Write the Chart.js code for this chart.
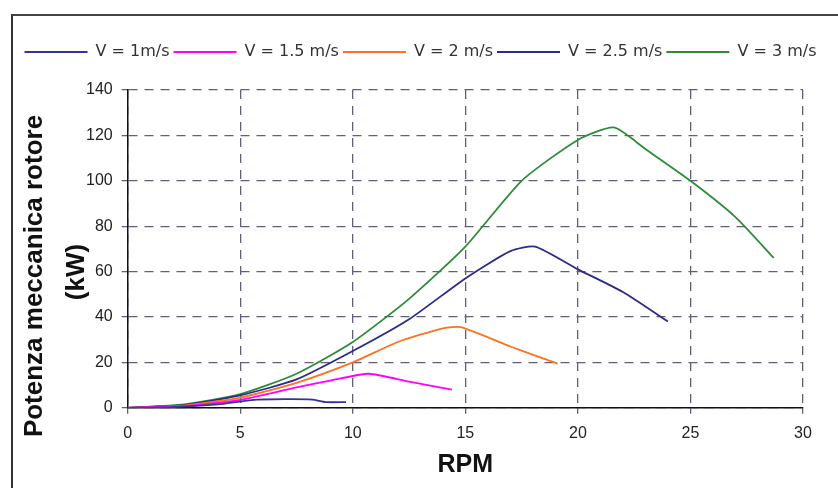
<!DOCTYPE html>
<html>
<head>
<meta charset="utf-8">
<script src="https://cdn.jsdelivr.net/npm/chart.js@4.4.0/dist/chart.umd.min.js"></script>
<style>
  body { margin: 0; background: #fff; }
  #frame { position: absolute; left: 11px; top: 14px; width: 900px; height: 500px;
           border-left: 2px solid #333; border-top: 2px solid #444; }
  #wrap { position: absolute; left: 0; top: 0; width: 838px; height: 488px; }
</style>
</head>
<body>
<div id="frame"></div>
<div id="wrap"><canvas id="powerChart"></canvas></div>
<script>
// RPM / power (kW)
const rpm1 = [0, 2, 4, 5.5, 7, 8.2, 8.8, 9.7];
const kw1 = [0, 0.3, 1.5, 3.4, 3.8, 3.6, 2.5, 2.5];

const rpm15 = [0, 2.5, 5, 7.5, 9, 10.7, 12.5, 14.4];
const kw15 = [0, 0.8, 3.5, 9, 12, 15, 11.5, 8];

const rpm2 = [0, 2.5, 5, 7.5, 10, 12, 14, 14.8, 17, 19.1];
const kw2 = [0, 1, 4.5, 11, 20, 29, 35, 35.5, 27, 19.5];

const rpm25 = [0, 2.5, 5, 7.5, 10, 12.5, 15, 17, 18.1, 20, 22, 24];
const kw25 = [0, 1.2, 5.5, 12.5, 25, 39, 57, 69, 71, 61, 51, 38];

const rpm3 = [0, 2.5, 5, 7.5, 10, 12.5, 15, 17.5, 20, 21.6, 23, 25, 27, 28.7];
const kw3 = [0, 1.5, 6, 15, 29, 48, 71, 100, 118, 123.5, 114, 100, 84, 66];

const seriesNames = ["V = 1m/s", "V = 1.5 m/s", "V = 2 m/s", "V = 2.5 m/s", "V = 3 m/s"];
const seriesColors = ["#333399", "#ff00ff", "#ff7020", "#2b2b88", "#2f8a3a"];
const yTitleLines = ["Potenza meccanica rotore", "(kW)"];

function pts(xs, ys) {
    return xs.map((x, i) => ({ x: x, y: ys[i] }));
}

const allData = [pts(rpm1, kw1), pts(rpm15, kw15), pts(rpm2, kw2), pts(rpm25, kw25), pts(rpm3, kw3)];

// keep the legend on one row, leave room under it, place it across the frame
const legendSpacer = {
    id: "legendSpacer",
    beforeInit(chart) {
        const fit = chart.legend.fit;
        chart.legend.fit = function () {
            this.maxWidth = 1000;
            fit.bind(chart.legend)();
            this.height += 20;
        };
    },
    afterLayout(chart) {
        chart.legend.left = 14;
        chart.legend.right = 827;
    }
};

// y title sits lower than the axis centre in the original, so draw it by hand
const yTitle = {
    id: "yTitle",
    afterDraw(chart) {
        const c = chart.ctx;
        c.save();
        c.fillStyle = "#111";
        c.font = "bold 26px 'Liberation Sans'";
        c.textAlign = "center";
        c.textBaseline = "middle";
        c.translate(35, 276);
        c.rotate(-Math.PI / 2);
        c.fillText(yTitleLines[0], 0, 0);
        c.fillText(yTitleLines[1], 4, 42);
        c.restore();
    }
};

const ctx = document.getElementById("powerChart").getContext("2d");
new Chart(ctx, {
    type: "line",
    data: {
        datasets: allData.map((d, i) => ({
            label: seriesNames[i],
            data: d,
            borderColor: seriesColors[i],
            backgroundColor: seriesColors[i],
            borderWidth: 1.8,
            pointRadius: 0,
            tension: 0.2,
            fill: false
        }))
    },
    plugins: [legendSpacer, yTitle],
    options: {
        responsive: true,
        maintainAspectRatio: false,
        animation: false,
        layout: { padding: { left: 77, right: 35, top: 40, bottom: 8 } },
        plugins: {
            legend: {
                position: "top",
                labels: {
                    usePointStyle: true,
                    pointStyle: "line",
                    pointStyleWidth: 63,
                    boxHeight: 16,
                    padding: 4,
                    color: "#333",
                    font: { family: "DejaVu Sans", size: 16 }
                }
            },
            tooltip: { enabled: false }
        },
        scales: {
            x: {
                type: "linear",
                min: 0,
                max: 30,
                ticks: { stepSize: 5, color: "#222", padding: 10,
                         font: { family: "Liberation Sans", size: 16 } },
                grid: { color: "#606078", lineWidth: 1.3, tickLength: 6 },
                border: { color: "#111", width: 1.5, dash: [9, 7] },
                title: {
                    display: true,
                    text: "RPM",
                    color: "#111",
                    padding: { top: -3, bottom: 0 },
                    font: { family: "Liberation Sans", size: 25, weight: "bold" }
                }
            },
            y: {
                min: 0,
                max: 140,
                ticks: { stepSize: 20, color: "#222", padding: 9,
                         font: { family: "Liberation Sans", size: 16 } },
                grid: { color: "#606078", lineWidth: 1.3, tickLength: 6 },
                border: { color: "#111", width: 1.5, dash: [9, 7] }
            }
        }
    }
});
</script>
</body>
</html>
